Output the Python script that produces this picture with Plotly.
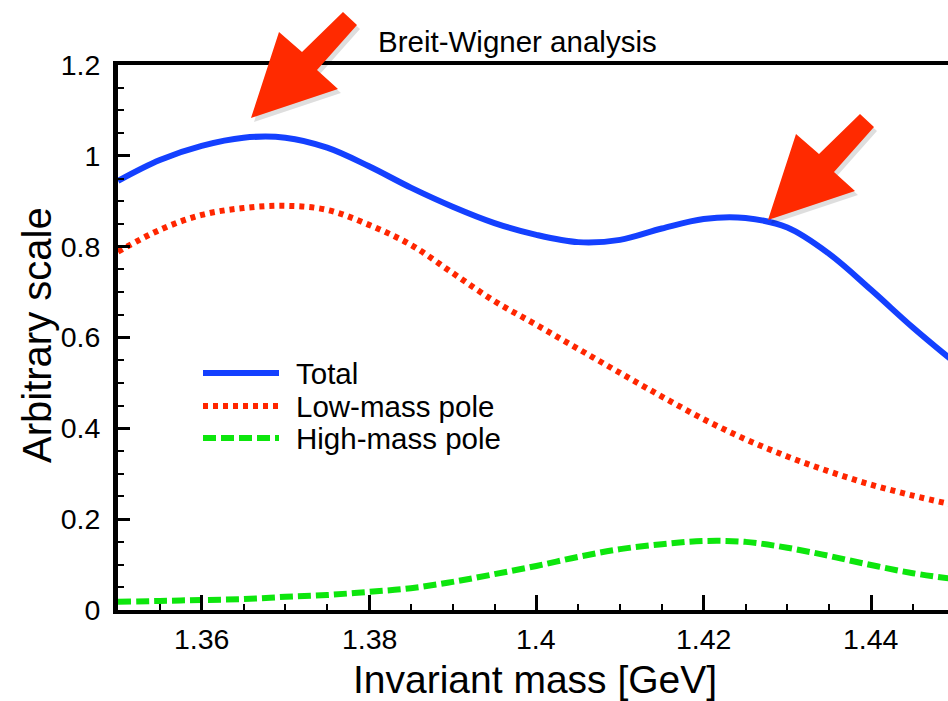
import plotly.graph_objects as go

# ---- data ----
mass = [1.350, 1.355, 1.360, 1.365, 1.370, 1.375, 1.380, 1.385, 1.390, 1.395,
        1.400, 1.405, 1.410, 1.415, 1.420, 1.425, 1.430, 1.435, 1.440, 1.445, 1.450]
total = [0.945, 0.991, 1.022, 1.040, 1.040, 1.018, 0.977, 0.930, 0.888, 0.852,
         0.826, 0.810, 0.815, 0.840, 0.861, 0.863, 0.842, 0.784, 0.705, 0.622, 0.545]
low_pole = [0.789, 0.837, 0.870, 0.885, 0.890, 0.881, 0.848, 0.804, 0.742, 0.680,
            0.628, 0.575, 0.522, 0.470, 0.420, 0.376, 0.338, 0.305, 0.276, 0.252, 0.231]
high_pole = [0.018, 0.020, 0.022, 0.024, 0.029, 0.033, 0.040, 0.048, 0.062, 0.079,
             0.097, 0.117, 0.134, 0.145, 0.152, 0.150, 0.137, 0.119, 0.099, 0.081, 0.068]

series_names = ["Total", "Low-mass pole", "High-mass pole"]
x_tick_vals = [1.36, 1.38, 1.40, 1.42, 1.44]
x_tick_text = ["1.36", "1.38", "1.4", "1.42", "1.44"]
y_tick_vals = [0, 0.2, 0.4, 0.6, 0.8, 1.0, 1.2]
y_tick_text = ["0", "0.2", "0.4", "0.6", "0.8", "1", "1.2"]

# ---- layout geometry ----
W, H = 948, 701
L, R, T, B = 118, 0, 65, 91
PW, PH = W - L - R, H - T - B
FONT = "Liberation Sans, Arial, Helvetica, sans-serif"

BLUE = "#1440ff"
RED = "#ff2600"
GREEN = "#0de60d"
ARROW = "#ff2a00"


def px(xp):
    return (xp - L) / PW


def py(yp):
    return (H - B - yp) / PH


fig = go.Figure()
styles = [
    dict(color=BLUE, width=6),
    dict(color=RED, width=6, dash="5px,5px"),
    dict(color=GREEN, width=6, dash="13px,5px"),
]
for name, ys, st in zip(series_names, [total, low_pole, high_pole], styles):
    fig.add_trace(go.Scatter(x=mass, y=ys, mode="lines", name=name,
                             line=dict(shape="spline", smoothing=1.0, **st),
                             showlegend=False, hoverinfo="skip"))

shapes = []

# ---- red arrows (decorations) ----
arrow_pts = [(251, 118), (279, 32), (302, 52), (343, 12), (357, 25), (317, 70), (338, 89)]


def arrow_path(dx, dy, sx=0, sy=0):
    pts = [(px(x + dx + sx), py(y + dy + sy)) for x, y in arrow_pts]
    return "M " + " L ".join(f"{a:.5f},{b:.5f}" for a, b in pts) + " Z"


for dx, dy in [(0, 0), (517, 102)]:
    shapes.append(dict(type="path", xref="paper", yref="paper",
                       path=arrow_path(dx, dy, 3, 4),
                       fillcolor="rgba(0,0,0,0.13)", line=dict(width=0), layer="above"))
    shapes.append(dict(type="path", xref="paper", yref="paper",
                       path=arrow_path(dx, dy),
                       fillcolor=ARROW, line=dict(width=0), layer="above"))

# ---- custom legend ----
leg_rows = [373, 406, 438]
annotations = []
for name, st, yy in zip(series_names, styles, leg_rows):
    shapes.append(dict(type="line", xref="paper", yref="paper",
                       x0=px(203), x1=px(279), y0=py(yy), y1=py(yy),
                       line=dict(color=st["color"], width=6, dash=st.get("dash", "solid"))))
    annotations.append(dict(text=name, xref="paper", yref="paper",
                            x=px(294), y=py(yy), xanchor="left", yanchor="middle",
                            showarrow=False, font=dict(size=29.5, color="black", family=FONT)))

# x tick labels placed at the axis tick values
for tv, tt in zip(x_tick_vals, x_tick_text):
    annotations.append(dict(text=tt, xref="x", yref="paper", x=tv, y=py(639),
                            xanchor="center", yanchor="middle", showarrow=False,
                            font=dict(size=28.5, color="black", family=FONT)))

# title and axis titles
annotations.append(dict(text="Breit-Wigner analysis", xref="paper", yref="paper",
                        x=px(517), y=py(42), xanchor="center", yanchor="middle",
                        showarrow=False, font=dict(size=29.5, color="black", family=FONT)))
annotations.append(dict(text="Invariant mass [GeV]", xref="paper", yref="paper",
                        x=px(535), y=py(679), xanchor="center", yanchor="middle",
                        showarrow=False, font=dict(size=39, color="black", family=FONT)))
annotations.append(dict(text="Arbitrary scale", xref="paper", yref="paper",
                        x=px(37), y=py(335), xanchor="center", yanchor="middle", textangle=-90,
                        showarrow=False, font=dict(size=40, color="black", family=FONT)))

fig.update_layout(
    width=W, height=H,
    margin=dict(l=L, r=R, t=T, b=B, pad=0),
    paper_bgcolor="white", plot_bgcolor="white",
    showlegend=False,
    shapes=shapes, annotations=annotations,
    xaxis=dict(range=[1.35, 1.4492], tickvals=x_tick_vals, ticktext=x_tick_text,
               showticklabels=False,
               ticks="inside", ticklen=15, tickwidth=3, tickcolor="black",
               minor=dict(dtick=0.005, tick0=1.35, ticks="inside", ticklen=6, tickwidth=2,
                          tickcolor="black", showgrid=False),
               showline=True, linewidth=4, linecolor="black", mirror=True,
               showgrid=False, zeroline=False),
    yaxis=dict(range=[0, 1.2], tickvals=y_tick_vals, ticktext=y_tick_text,
               ticks="inside", ticklen=12, tickwidth=3, tickcolor="black",
               minor=dict(dtick=0.05, tick0=0, ticks="inside", ticklen=6, tickwidth=2,
                          tickcolor="black", showgrid=False),
               showline=True, linewidth=5, linecolor="black", mirror=False,
               showgrid=False, zeroline=False,
               tickfont=dict(size=28.5, color="black", family=FONT),
               ticklabelstandoff=7),
)

fig.write_html("out.html")
